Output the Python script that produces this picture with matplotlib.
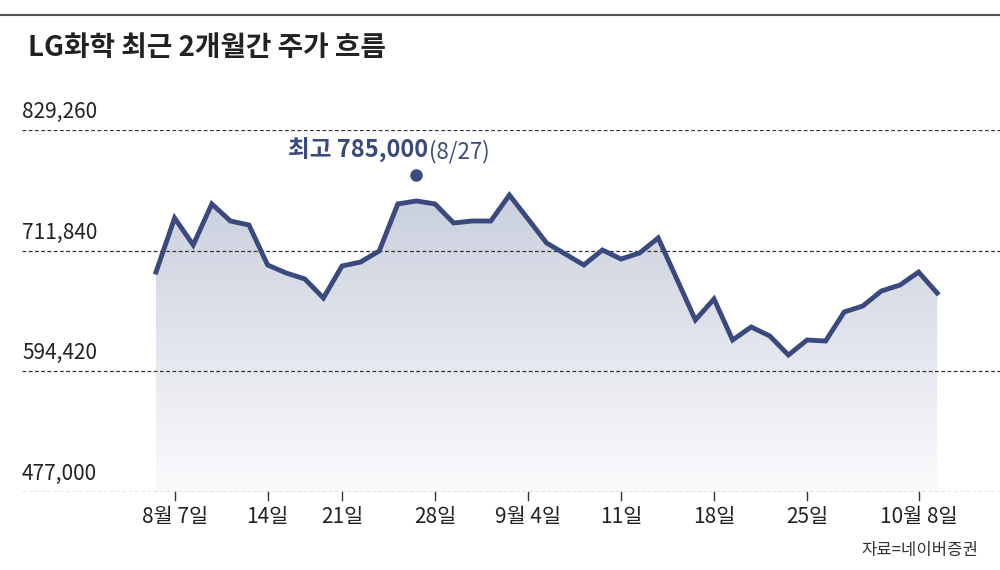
import matplotlib
matplotlib.use("Agg")
import matplotlib.pyplot as plt
import numpy as np
from matplotlib.patches import Polygon

plt.rcParams["font.family"] = ["Noto Sans CJK KR", "Noto Sans CJK JP", "Noto Sans CJK SC", "DejaVu Sans"]

# 종가 (원), 43 거래일
prices = [691000, 743600, 717400, 757300, 740700, 736800, 697900, 690100, 684300, 665800,
          696900, 700800, 711500, 757300, 760200, 757300, 738800, 740700, 740700, 766000,
          742700, 719300, 708600, 697900, 712500, 703700, 709600, 724200, 684300, 644400,
          664800, 624900, 637600, 628800, 610300, 624900, 623900, 652200, 658000, 672600,
          678400, 691000, 670600]
tick_idx = [1, 6, 10, 15, 20, 25, 30, 35, 41]
tick_labels = ["8월 7일", "14일", "21일", "28일", "9월 4일", "11일", "18일", "25일", "10월 8일"]
y_ticks = [477000, 594420, 711840, 829260]
high_idx = 14
high_val = 785000

line_c = "#3a4a7e"
W, H = 1000, 570
fig = plt.figure(figsize=(W / 100, H / 100), dpi=100)
ax = fig.add_axes([22 / W, (H - 492) / H, 1 - 22 / W, (492 - 130) / H])
step = 18.6
ax.set_xlim((22 - 156) / step, (1000 - 156) / step)
ax.set_ylim(y_ticks[0], y_ticks[-1])
ax.axis("off")

x = np.arange(len(prices))
# 선 아래 그라데이션 채우기
verts = [(x[0], y_ticks[0])] + list(zip(x, prices)) + [(x[-1], y_ticks[0])]
poly = Polygon(verts, closed=True, facecolor="none", edgecolor="none")
ax.add_patch(poly)
grad = np.linspace(0, 1, 256).reshape(-1, 1)
cmap = matplotlib.colors.LinearSegmentedColormap.from_list("g", ["#fbfbfd", "#c9cfdd"])
im = ax.imshow(grad, cmap=cmap, aspect="auto", origin="lower",
               extent=[x[0], x[-1], y_ticks[0], 770000], zorder=1)
im.set_clip_path(poly)

for yt in y_ticks:
    ax.axhline(yt, color="#333333", lw=0.9, ls=(0, (3, 2)), zorder=2.5)
    ax.text(0.0, yt + 7000, f"{yt:,}", transform=ax.get_yaxis_transform(),
            fontsize=15, color="#222222", ha="left", va="bottom")

ax.plot(x, prices, color=line_c, lw=3.5, zorder=3, solid_joinstyle="miter")
ax.plot(high_idx, high_val, "o", color=line_c, ms=8, zorder=4)
t1 = ax.text(high_idx - 6.9, high_val + 12000, "최고 785,000", color=line_c,
             fontsize=17, fontweight="bold", ha="left", va="bottom")
fig.canvas.draw()
bb = t1.get_window_extent()
x_end = ax.transData.inverted().transform((bb.x1, bb.y0))[0]
ax.text(x_end + 0.05, high_val + 12000, "(8/27)", color=line_c,
        fontsize=16, ha="left", va="bottom")

for i, lab in zip(tick_idx, tick_labels):
    ax.plot([i, i], [y_ticks[0], y_ticks[0] - 8000], color="#333333", lw=1, clip_on=False)
    ax.text(i, y_ticks[0] - 14000, lab, fontsize=15, color="#222222",
            ha="center", va="top")

fig.add_artist(plt.Line2D([0, 1], [1 - 15 / H, 1 - 15 / H], color="#555555", lw=1.5))
fig.text(28 / W, 1 - 48 / H, "LG화학 최근 2개월간 주가 흐름", fontsize=20,
         fontweight="bold", color="#222222", va="center")
fig.text(978 / W, 1 - 551 / H, "자료=네이버증권", fontsize=12, color="#333333",
         ha="right", va="center")

fig.savefig("out.png", dpi=100)
